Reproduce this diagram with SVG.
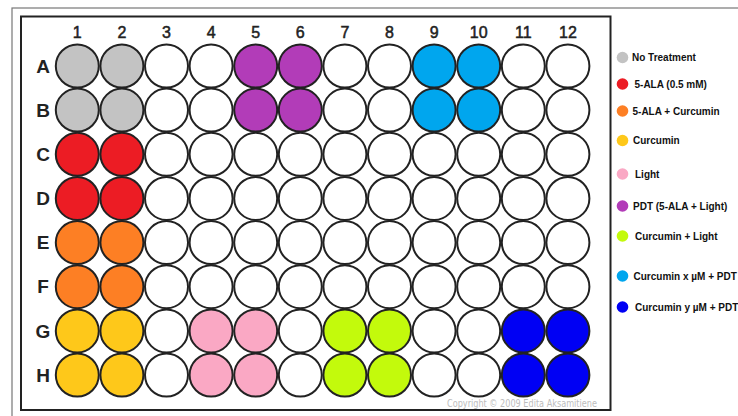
<svg xmlns="http://www.w3.org/2000/svg" width="738" height="416" viewBox="0 0 738 416">
<style>
.w{stroke:#222;stroke-width:2;fill:#fff}
.col{font-family:"Liberation Sans",Arial,sans-serif;font-size:16px;fill:#222;stroke:#222;stroke-width:0.5;text-anchor:middle}
.row{font-family:"Liberation Sans",Arial,sans-serif;font-size:19px;font-weight:bold;fill:#222;text-anchor:middle}
.lg{font-family:"Liberation Sans",Arial,sans-serif;font-size:10px;font-weight:bold;fill:#111}
.gray{fill:#c3c3c3}.red{fill:#ec1c24}.orange{fill:#fd7f24}.yellow{fill:#fec81a}.pink{fill:#faa8c4}.purple{fill:#b23cb8}.lime{fill:#c3fa0c}.sky{fill:#00a6ee}.blue{fill:#0000f4}
</style>
<rect width="738" height="416" fill="#fff"/>
<rect x="12" y="8" width="740" height="420" fill="none" stroke="#777" stroke-width="1.2"/>
<rect x="21" y="16.5" width="589.5" height="393.5" fill="none" stroke="#222" stroke-width="2"/>
<g id="column-labels">
<text class="col" x="77.3" y="38">1</text><text class="col" x="121.9" y="38">2</text><text class="col" x="166.5" y="38">3</text><text class="col" x="211.1" y="38">4</text><text class="col" x="255.7" y="38">5</text><text class="col" x="300.3" y="38">6</text><text class="col" x="344.9" y="38">7</text><text class="col" x="389.5" y="38">8</text><text class="col" x="434.1" y="38">9</text><text class="col" x="478.7" y="38">10</text><text class="col" x="523.3" y="38">11</text><text class="col" x="567.9" y="38">12</text>
</g>
<g id="row-labels">
<text class="row" x="43" y="73">A</text><text class="row" x="43" y="117">B</text><text class="row" x="43" y="161">C</text><text class="row" x="43" y="205">D</text><text class="row" x="43" y="249">E</text><text class="row" x="43" y="293">F</text><text class="row" x="43" y="338">G</text><text class="row" x="43" y="382">H</text>
</g>
<g id="wells">
<g id="row-A">
<circle class="w gray" cx="77.3" cy="66" r="21.5"/><circle class="w gray" cx="121.9" cy="66" r="21.5"/><circle class="w" cx="166.5" cy="66" r="21.5"/><circle class="w" cx="211.1" cy="66" r="21.5"/><circle class="w purple" cx="255.7" cy="66" r="21.5"/><circle class="w purple" cx="300.3" cy="66" r="21.5"/><circle class="w" cx="344.9" cy="66" r="21.5"/><circle class="w" cx="389.5" cy="66" r="21.5"/><circle class="w sky" cx="434.1" cy="66" r="21.5"/><circle class="w sky" cx="478.7" cy="66" r="21.5"/><circle class="w" cx="523.3" cy="66" r="21.5"/><circle class="w" cx="567.9" cy="66" r="21.5"/>
</g>
<g id="row-B">
<circle class="w gray" cx="77.3" cy="110.1" r="21.5"/><circle class="w gray" cx="121.9" cy="110.1" r="21.5"/><circle class="w" cx="166.5" cy="110.1" r="21.5"/><circle class="w" cx="211.1" cy="110.1" r="21.5"/><circle class="w purple" cx="255.7" cy="110.1" r="21.5"/><circle class="w purple" cx="300.3" cy="110.1" r="21.5"/><circle class="w" cx="344.9" cy="110.1" r="21.5"/><circle class="w" cx="389.5" cy="110.1" r="21.5"/><circle class="w sky" cx="434.1" cy="110.1" r="21.5"/><circle class="w sky" cx="478.7" cy="110.1" r="21.5"/><circle class="w" cx="523.3" cy="110.1" r="21.5"/><circle class="w" cx="567.9" cy="110.1" r="21.5"/>
</g>
<g id="row-C">
<circle class="w red" cx="77.3" cy="154.3" r="21.5"/><circle class="w red" cx="121.9" cy="154.3" r="21.5"/><circle class="w" cx="166.5" cy="154.3" r="21.5"/><circle class="w" cx="211.1" cy="154.3" r="21.5"/><circle class="w" cx="255.7" cy="154.3" r="21.5"/><circle class="w" cx="300.3" cy="154.3" r="21.5"/><circle class="w" cx="344.9" cy="154.3" r="21.5"/><circle class="w" cx="389.5" cy="154.3" r="21.5"/><circle class="w" cx="434.1" cy="154.3" r="21.5"/><circle class="w" cx="478.7" cy="154.3" r="21.5"/><circle class="w" cx="523.3" cy="154.3" r="21.5"/><circle class="w" cx="567.9" cy="154.3" r="21.5"/>
</g>
<g id="row-D">
<circle class="w red" cx="77.3" cy="198.4" r="21.5"/><circle class="w red" cx="121.9" cy="198.4" r="21.5"/><circle class="w" cx="166.5" cy="198.4" r="21.5"/><circle class="w" cx="211.1" cy="198.4" r="21.5"/><circle class="w" cx="255.7" cy="198.4" r="21.5"/><circle class="w" cx="300.3" cy="198.4" r="21.5"/><circle class="w" cx="344.9" cy="198.4" r="21.5"/><circle class="w" cx="389.5" cy="198.4" r="21.5"/><circle class="w" cx="434.1" cy="198.4" r="21.5"/><circle class="w" cx="478.7" cy="198.4" r="21.5"/><circle class="w" cx="523.3" cy="198.4" r="21.5"/><circle class="w" cx="567.9" cy="198.4" r="21.5"/>
</g>
<g id="row-E">
<circle class="w orange" cx="77.3" cy="242.6" r="21.5"/><circle class="w orange" cx="121.9" cy="242.6" r="21.5"/><circle class="w" cx="166.5" cy="242.6" r="21.5"/><circle class="w" cx="211.1" cy="242.6" r="21.5"/><circle class="w" cx="255.7" cy="242.6" r="21.5"/><circle class="w" cx="300.3" cy="242.6" r="21.5"/><circle class="w" cx="344.9" cy="242.6" r="21.5"/><circle class="w" cx="389.5" cy="242.6" r="21.5"/><circle class="w" cx="434.1" cy="242.6" r="21.5"/><circle class="w" cx="478.7" cy="242.6" r="21.5"/><circle class="w" cx="523.3" cy="242.6" r="21.5"/><circle class="w" cx="567.9" cy="242.6" r="21.5"/>
</g>
<g id="row-F">
<circle class="w orange" cx="77.3" cy="286.7" r="21.5"/><circle class="w orange" cx="121.9" cy="286.7" r="21.5"/><circle class="w" cx="166.5" cy="286.7" r="21.5"/><circle class="w" cx="211.1" cy="286.7" r="21.5"/><circle class="w" cx="255.7" cy="286.7" r="21.5"/><circle class="w" cx="300.3" cy="286.7" r="21.5"/><circle class="w" cx="344.9" cy="286.7" r="21.5"/><circle class="w" cx="389.5" cy="286.7" r="21.5"/><circle class="w" cx="434.1" cy="286.7" r="21.5"/><circle class="w" cx="478.7" cy="286.7" r="21.5"/><circle class="w" cx="523.3" cy="286.7" r="21.5"/><circle class="w" cx="567.9" cy="286.7" r="21.5"/>
</g>
<g id="row-G">
<circle class="w yellow" cx="77.3" cy="330.9" r="21.5"/><circle class="w yellow" cx="121.9" cy="330.9" r="21.5"/><circle class="w" cx="166.5" cy="330.9" r="21.5"/><circle class="w pink" cx="211.1" cy="330.9" r="21.5"/><circle class="w pink" cx="255.7" cy="330.9" r="21.5"/><circle class="w" cx="300.3" cy="330.9" r="21.5"/><circle class="w lime" cx="344.9" cy="330.9" r="21.5"/><circle class="w lime" cx="389.5" cy="330.9" r="21.5"/><circle class="w" cx="434.1" cy="330.9" r="21.5"/><circle class="w" cx="478.7" cy="330.9" r="21.5"/><circle class="w blue" cx="523.3" cy="330.9" r="21.5"/><circle class="w blue" cx="567.9" cy="330.9" r="21.5"/>
</g>
<g id="row-H">
<circle class="w yellow" cx="77.3" cy="375" r="21.5"/><circle class="w yellow" cx="121.9" cy="375" r="21.5"/><circle class="w" cx="166.5" cy="375" r="21.5"/><circle class="w pink" cx="211.1" cy="375" r="21.5"/><circle class="w pink" cx="255.7" cy="375" r="21.5"/><circle class="w" cx="300.3" cy="375" r="21.5"/><circle class="w lime" cx="344.9" cy="375" r="21.5"/><circle class="w lime" cx="389.5" cy="375" r="21.5"/><circle class="w" cx="434.1" cy="375" r="21.5"/><circle class="w" cx="478.7" cy="375" r="21.5"/><circle class="w blue" cx="523.3" cy="375" r="21.5"/><circle class="w blue" cx="567.9" cy="375" r="21.5"/>
</g>
</g>
<g id="legend">
<g id="lg-no-treatment"><circle class="gray" cx="622.5" cy="57.5" r="5.8"/><text class="lg" x="632" y="61">No Treatment</text></g>
<g id="lg-5ala"><circle class="red" cx="622.5" cy="84" r="5.8"/><text class="lg" x="634.5" y="87.5">5-ALA (0.5 mM)</text></g>
<g id="lg-5ala-curcumin"><circle class="orange" cx="622.5" cy="111" r="5.8"/><text class="lg" x="632.5" y="114.5">5-ALA + Curcumin</text></g>
<g id="lg-curcumin"><circle class="yellow" cx="622.5" cy="140.5" r="5.8"/><text class="lg" x="633" y="144">Curcumin</text></g>
<g id="lg-light"><circle class="pink" cx="622.5" cy="174" r="5.8"/><text class="lg" x="635" y="177.5">Light</text></g>
<g id="lg-pdt"><circle class="purple" cx="622.5" cy="206" r="5.8"/><text class="lg" x="633" y="209.5">PDT (5-ALA + Light)</text></g>
<g id="lg-curcumin-light"><circle class="lime" cx="622.5" cy="236" r="5.8"/><text class="lg" x="635" y="239.5">Curcumin + Light</text></g>
<g id="lg-curcumin-x"><circle class="sky" cx="622.5" cy="276" r="5.8"/><text class="lg" x="633.5" y="279.5">Curcumin x µM + PDT</text></g>
<g id="lg-curcumin-y"><circle class="blue" cx="622.5" cy="307" r="5.8"/><text class="lg" x="635" y="310.5">Curcumin y µM + PDT</text></g>
</g>
<text x="447" y="407" font-family="'DejaVu Sans',Verdana,sans-serif" font-size="10px" fill="#bdbdbd" textLength="150" lengthAdjust="spacingAndGlyphs">Copyright © 2009 Edita Aksamitiene</text>
</svg>
